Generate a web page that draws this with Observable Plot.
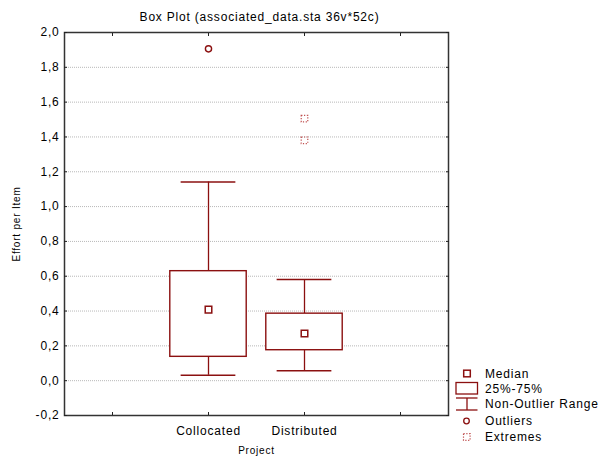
<!DOCTYPE html>
<html>
<head>
<meta charset="utf-8">
<script src="https://cdn.jsdelivr.net/npm/d3@7"></script>
<script src="https://cdn.jsdelivr.net/npm/@observablehq/plot@0.6"></script>
<style>
  html, body { margin: 0; padding: 0; background: #fff; }
  #wrap { position: relative; width: 604px; height: 462px; font-family: "Liberation Sans", Arial, Helvetica, sans-serif; }
  #legend { position: absolute; left: 0; top: 0; pointer-events: none; }
</style>
</head>
<body>
<div id="wrap"></div>
<script>
// ---- data ----
const categories = ["Collocated", "Distributed"];
const medians = [0.408, 0.271];
const q1 = [0.137, 0.175];
const q3 = [0.629, 0.385];
const whiskerLow = [0.031, 0.057];
const whiskerHigh = [1.141, 0.581];
const outlierCategories = ["Collocated"];
const outlierValues = [1.906];
const extremeCategories = ["Distributed", "Distributed"];
const extremeValues = [1.505, 1.381];
const yTicks = [-0.2, 0, 0.2, 0.4, 0.6, 0.8, 1.0, 1.2, 1.4, 1.6, 1.8, 2.0];
const xTicks = [0, 1, 2, 3];
const title = "Box Plot (associated_data.sta 36v*52c)";
const yLabel = "Effort per Item";
const xLabel = "Project";
const legendLabels = ["Median", "25%-75%", "Non-Outlier Range", "Outliers", "Extremes"];

// ---- build tables ----
const pos = c => categories.indexOf(c) + 1;
const rows = categories.map((c, i) => ({
  cat: c, pos: i + 1, med: medians[i], q1: q1[i], q3: q3[i], lo: whiskerLow[i], hi: whiskerHigh[i]
}));
const outliers = outlierCategories.map((c, i) => ({pos: pos(c), v: outlierValues[i]}));
const extremes = extremeCategories.map((c, i) => ({pos: pos(c), v: extremeValues[i]}));

const red = "#8b1010";
const boxHalf = 0.398;
const capHalf = 0.285;
const fmtY = d => d3.format(".1f")(d).replace(".", ",").replace("\u2212", "-");
const fmtX = d => (d >= 1 && d <= categories.length) ? categories[d - 1] : "";
const font = "'Liberation Sans', Arial, Helvetica, sans-serif";

const chart = Plot.plot({
  width: 604,
  height: 462,
  marginLeft: 64,
  marginRight: 156,
  marginTop: 32,
  marginBottom: 47,
  style: {fontFamily: font, fontSize: "12px", color: "#000", background: "#fff"},
  x: {domain: [-0.5, 3.5], axis: null},
  y: {domain: [-0.2, 2.0], axis: null},
  marks: [
    Plot.gridY(yTicks, {stroke: "#b8b8b8", strokeOpacity: 1, strokeDasharray: "1,1"}),
    // whiskers
    Plot.ruleX(rows, {x: "pos", y1: "q3", y2: "hi", stroke: red, strokeWidth: 1.3}),
    Plot.ruleX(rows, {x: "pos", y1: "lo", y2: "q1", stroke: red, strokeWidth: 1.3}),
    Plot.ruleY(rows, {y: "hi", x1: d => d.pos - capHalf, x2: d => d.pos + capHalf, stroke: red, strokeWidth: 1.5}),
    Plot.ruleY(rows, {y: "lo", x1: d => d.pos - capHalf, x2: d => d.pos + capHalf, stroke: red, strokeWidth: 1.5}),
    // boxes
    Plot.rect(rows, {x1: d => d.pos - boxHalf, x2: d => d.pos + boxHalf, y1: "q1", y2: "q3", fill: "white", stroke: red, strokeWidth: 1.4}),
    // medians
    Plot.dot(rows, {x: "pos", y: "med", symbol: "square", r: 3.7, fill: "white", stroke: red, strokeWidth: 1.5}),
    // outliers
    Plot.dot(outliers, {x: "pos", y: "v", symbol: "circle", r: 3.1, fill: "none", stroke: red, strokeWidth: 1.4}),
    // extremes
    Plot.dot(extremes, {x: "pos", y: "v", symbol: "square", r: 3.7, fill: "none", stroke: "#c05050", strokeWidth: 1.2, strokeDasharray: "1.2,1.6"}),
    // frame
    Plot.frame({stroke: "#333", strokeWidth: 1.5}),
    // inward ticks
    Plot.axisY(yTicks, {anchor: "left", tickSize: -3, tickFormat: () => "", label: null, stroke: "#222"}),
    Plot.axisY(yTicks, {anchor: "right", tickSize: -3, tickFormat: () => "", label: null, stroke: "#222"}),
    Plot.axisX(xTicks, {anchor: "bottom", tickSize: -3, tickFormat: () => "", label: null, stroke: "#222"}),
    Plot.axisX(xTicks, {anchor: "top", tickSize: -3, tickFormat: () => "", label: null, stroke: "#222"}),
    // tick labels
    Plot.axisY(yTicks, {anchor: "left", tickSize: 0, tickPadding: 5, tickFormat: fmtY, label: null, fontSize: 12, fill: "#000"}),
    Plot.axisX([1, 2], {anchor: "bottom", tickSize: 0, tickPadding: 11, tickFormat: fmtX, label: null, fontSize: 12, fill: "#000"}),
    // titles
    Plot.text([title], {frameAnchor: "top", textAnchor: "middle", dy: -20, dx: 3, fontSize: 12, fill: "#000"}),
    Plot.text([yLabel], {frameAnchor: "left", textAnchor: "middle", dx: -48, rotate: -90, fontSize: 10, fill: "#000"}),
    Plot.text([xLabel], {frameAnchor: "bottom", textAnchor: "middle", dy: 38, fontSize: 10, fill: "#000"})
  ]
});
d3.select(chart).selectAll("text").style("letter-spacing", "0.8px");
document.getElementById("wrap").appendChild(chart);

// ---- legend overlay ----
const lg = d3.select("#wrap").append("svg")
  .attr("id", "legend").attr("width", 604).attr("height", 462);
const lx = 467, tx = 485;
const ly = [373.5, 389, 404, 421, 437];
// median
lg.append("rect").attr("x", lx - 3.3).attr("y", ly[0] - 3.3).attr("width", 6.6).attr("height", 6.6)
  .attr("fill", "white").attr("stroke", red).attr("stroke-width", 1.5);
// box
lg.append("rect").attr("x", 456).attr("y", 382.5).attr("width", 21.5).attr("height", 11.5)
  .attr("fill", "white").attr("stroke", red).attr("stroke-width", 1.3);
// whisker
lg.append("line").attr("x1", 456).attr("x2", 477.5).attr("y1", 398).attr("y2", 398).attr("stroke", red).attr("stroke-width", 1.3);
lg.append("line").attr("x1", 456).attr("x2", 477.5).attr("y1", 410).attr("y2", 410).attr("stroke", red).attr("stroke-width", 1.3);
lg.append("line").attr("x1", lx).attr("x2", lx).attr("y1", 398).attr("y2", 410).attr("stroke", red).attr("stroke-width", 1.3);
// outlier
lg.append("circle").attr("cx", lx - 0.5).attr("cy", ly[3]).attr("r", 2.8).attr("fill", "none").attr("stroke", red).attr("stroke-width", 1.3);
// extreme
lg.append("rect").attr("x", lx - 3.5).attr("y", ly[4] - 3.3).attr("width", 6.6).attr("height", 6.6)
  .attr("fill", "none").attr("stroke", "#c05050").attr("stroke-width", 1.2).attr("stroke-dasharray", "1.2,1.6");
lg.selectAll("text.lab").data(legendLabels).join("text")
  .attr("class", "lab")
  .attr("x", tx).attr("y", (d, i) => ly[i]).attr("dy", "0.36em")
  .style("font-family", font).style("font-size", "12px").style("letter-spacing", "0.8px")
  .attr("fill", "#000").text(d => d);
</script>
</body>
</html>
